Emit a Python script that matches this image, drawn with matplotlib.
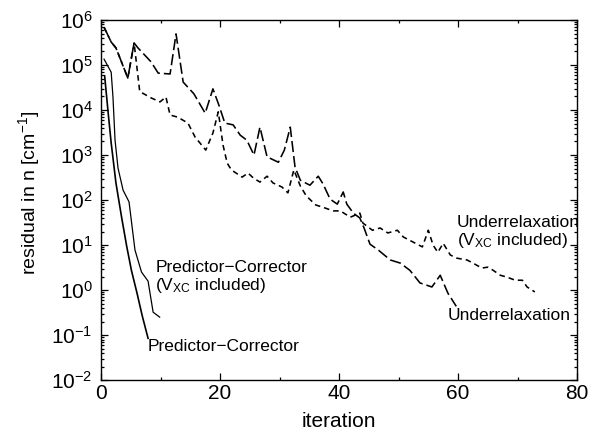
import matplotlib
matplotlib.use("Agg")
import matplotlib.pyplot as plt
from matplotlib.ticker import MultipleLocator, LogLocator, NullFormatter
import numpy as np

plt.rcParams['font.family'] = ['Liberation Sans', 'DejaVu Sans']
plt.rcParams['mathtext.fontset'] = 'custom'
plt.rcParams['mathtext.rm'] = 'Liberation Sans'
plt.rcParams['mathtext.it'] = 'Liberation Sans:italic'
plt.rcParams['mathtext.bf'] = 'Liberation Sans:bold'

# ---- data (iteration, log10 residual) ----
under_x = [0.5, 1.7, 2.5, 4.5, 5.55, 6.2, 8.4, 9.6, 11.6, 12.6, 13.8, 15.6, 17.5, 18.8,
           19.8, 20.8, 22.2, 23.4, 24.5, 25.7, 26.7, 27.9, 29.8, 30.8, 31.8, 32.6, 33.5,
           35.1, 36.5, 37.3, 38.5, 39.7, 40.7, 41.3, 42.4, 43.5, 44.2, 45.2, 46.6, 48.6,
           50.3, 51.9, 53.6, 55.6, 57.0, 58.3, 59.7]
under_log = [5.84, 5.51, 5.38, 4.71, 5.49, 5.38, 5.07, 4.82, 4.80, 5.69, 4.62, 4.36, 3.93,
             4.47, 4.11, 3.71, 3.67, 3.44, 3.33, 3.00, 3.62, 2.96, 2.84, 3.11, 3.62, 2.73,
             2.44, 2.33, 2.53, 2.36, 2.02, 1.91, 2.18, 1.91, 1.71, 1.60, 1.38, 1.02, 0.89,
             0.67, 0.60, 0.44, 0.16, 0.07, 0.33, -0.07, -0.36]

underxc_x = [0.5, 1.7, 2.5, 4.5, 5.55, 6.5, 8.4, 9.9, 10.9, 11.6, 12.9, 14.6, 15.8, 17.6,
             18.8, 19.7, 20.5, 21.2, 21.9, 23.7, 24.7, 25.6, 26.7, 27.9, 28.9, 30.4, 31.4,
             32.4, 33.5, 34.5, 36.1, 37.3, 39.0, 40.2, 41.9, 43.5, 44.0, 45.6, 46.9, 48.2,
             49.8, 50.8, 52.4, 54.0, 55.0, 55.8, 56.6, 57.5, 58.7, 59.8, 61.5, 62.5, 64.0,
             65.0, 65.9, 67.1, 68.2, 69.6, 70.8, 71.6, 72.9]
underxc_log = [5.84, 5.51, 5.38, 4.71, 5.49, 4.41, 4.27, 4.18, 4.29, 3.89, 3.84, 3.71, 3.40,
               3.11, 3.49, 3.96, 3.22, 2.82, 2.67, 2.51, 2.60, 2.49, 2.40, 2.53, 2.38, 2.29,
               2.16, 2.67, 2.31, 2.09, 1.89, 1.84, 1.76, 1.76, 1.62, 1.71, 1.49, 1.33, 1.38,
               1.27, 1.33, 1.18, 1.07, 0.96, 1.33, 1.00, 0.84, 1.04, 0.78, 0.71, 0.67, 0.60,
               0.49, 0.51, 0.44, 0.33, 0.29, 0.22, 0.22, 0.07, -0.04]

pcxc_x = [0.5, 1.7, 2.0, 2.35, 2.85, 3.7, 4.7, 5.7, 6.8, 7.9, 8.75, 9.85]
pcxc_log = [5.13, 4.84, 4.29, 3.33, 2.71, 2.22, 1.96, 0.89, 0.40, 0.20, -0.49, -0.60]

pc_x = [0.6, 1.2, 1.7, 2.5, 3.45, 4.3, 5.1, 6.05, 6.9, 7.9]
pc_log = [4.76, 3.93, 3.27, 2.38, 1.62, 0.98, 0.44, -0.07, -0.56, -1.07]

fig = plt.figure(figsize=(5.98, 4.34), dpi=100)
ax = fig.add_axes([0.169, 0.124, 0.796, 0.830])

lw = 1.15
ax.plot(under_x, 10 ** np.array(under_log), color='black', lw=lw, dashes=(7, 2.5))
ax.plot(underxc_x, 10 ** np.array(underxc_log), color='black', lw=lw, dashes=(3.5, 2.5))
ax.plot(pcxc_x, 10 ** np.array(pcxc_log), color='black', lw=0.9)
ax.plot(pc_x, 10 ** np.array(pc_log), color='black', lw=1.2)

ax.set_yscale('log')
ax.set_xlim(0, 80)
ax.set_ylim(1e-2, 1e6)
ax.xaxis.set_major_locator(MultipleLocator(20))
ax.xaxis.set_minor_locator(MultipleLocator(10))
ax.yaxis.set_major_locator(LogLocator(base=10, numticks=20))
ax.yaxis.set_minor_locator(LogLocator(base=10, subs=np.arange(2, 10), numticks=20))
ax.yaxis.set_minor_formatter(NullFormatter())
ax.tick_params(which='both', direction='in', top=True, right=True, labelsize=15, width=0.9)
ax.tick_params(which='major', length=5)
ax.tick_params(axis='x', which='major', pad=3)
ax.tick_params(axis='y', which='major', pad=6)
ax.tick_params(which='minor', length=2.5)
for s in ax.spines.values():
    s.set_linewidth(1.0)

ax.set_xlabel('iteration', fontsize=15)
ax.xaxis.set_label_coords(0.5, -0.088)
ax.set_ylabel('residual in n [cm$^{-1}$]', fontsize=14)
ax.yaxis.set_label_coords(-0.125, 0.52)

fs = 12.5
ax.text(59.8, 10 ** 1.28, 'Underrelaxation\n(V$_{\\mathrm{XC}}$ included)', fontsize=fs,
        va='center', ha='left', linespacing=1.05)
ax.text(58.2, 10 ** -0.56, 'Underrelaxation', fontsize=fs, va='center', ha='left')
ax.text(9.1, 10 ** 0.28, 'Predictor\u2212Corrector\n(V$_{\\mathrm{XC}}$ included)', fontsize=fs,
        va='center', ha='left', linespacing=1.05)
ax.text(7.9, 10 ** -1.26, 'Predictor\u2212Corrector', fontsize=fs, va='center', ha='left')

fig.savefig('out.png', dpi=100)
